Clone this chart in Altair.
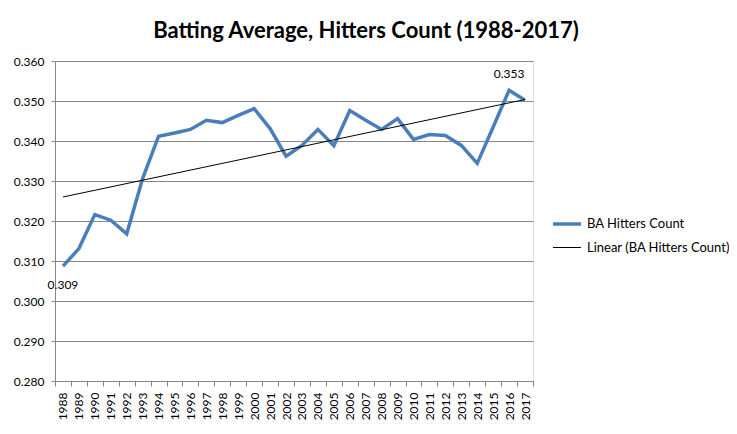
import altair as alt
import pandas as pd

years = [1988, 1989, 1990, 1991, 1992, 1993, 1994, 1995, 1996, 1997,
         1998, 1999, 2000, 2001, 2002, 2003, 2004, 2005, 2006, 2007,
         2008, 2009, 2010, 2011, 2012, 2013, 2014, 2015, 2016, 2017]
ba = [0.3087, 0.3131, 0.3216, 0.3202, 0.3168, 0.3306, 0.3412, 0.3420, 0.3429, 0.3452,
      0.3446, 0.3464, 0.3481, 0.3431, 0.3362, 0.3389, 0.3429, 0.3388, 0.3476, 0.3452,
      0.3429, 0.3456, 0.3404, 0.3416, 0.3414, 0.3389, 0.3344, 0.3435, 0.3527, 0.3502]
y_ticks = [0.28, 0.29, 0.30, 0.31, 0.32, 0.33, 0.34, 0.35, 0.36]
series_names = ["BA Hitters Count", "Linear (BA Hitters Count)"]
series_colors = ["#4A7EBB", "#000000"]
series_widths = [3.5, 1.0]

df = pd.DataFrame({"year": years, "ba": ba})

# axis positions: category labels at years, ticks between categories
x_axis_values = sorted(set(years + [y - 0.5 for y in years] + [years[-1] + 0.5]))

FONT = "Lato"

x_scale = alt.Scale(domain=[years[0] - 0.5, years[-1] + 0.5], nice=False, zero=False)
y_scale = alt.Scale(domain=[y_ticks[0], y_ticks[-1]], nice=False, zero=False)

x_enc = alt.X(
    "year:Q", scale=x_scale, title=None,
    axis=alt.Axis(
        values=x_axis_values, tickCount=200,
        labelExpr="datum.value % 1 == 0 ? toString(datum.value) : ''",
        labelAngle=270, labelOverlap=False, labelPadding=6,
        labelFontSize=12, labelFont=FONT, labelColor="#000000",
        grid=False, domainColor="#868686", tickColor="#868686",
        tickSize=5,
        tickOpacity={"condition": {"test": "datum.value % 1 != 0", "value": 1}, "value": 0},
    ),
)
y_enc = alt.Y(
    "ba:Q", scale=y_scale, title=None,
    axis=alt.Axis(
        values=y_ticks, tickCount=50, format=".3f", grid=True, gridColor="#868686",
        domainColor="#868686", tickColor="#868686", tickSize=4, labelOverlap=False,
        labelPadding=7, labelFontSize=12, labelFont=FONT, labelColor="#000000",
    ),
)

legend = alt.Legend(
    title=None, orient="none", legendX=496, legendY=147,
    symbolType="stroke", symbolSize=784, labelFont=FONT, labelFontSize=13,
    labelColor="#000000", labelOffset=4, rowPadding=2, padding=0,
)
color = alt.Color("series:N", scale=alt.Scale(domain=series_names, range=series_colors), legend=legend)
stroke_w = alt.StrokeWidth("series:N", scale=alt.Scale(type="ordinal", domain=series_names, range=series_widths), legend=legend)

base = alt.Chart(df)

line = base.transform_calculate(series="'BA Hitters Count'").mark_line().encode(
    x=x_enc, y=y_enc, color=color, strokeWidth=stroke_w
)

trend = base.transform_regression("year", "ba").transform_calculate(
    series="'Linear (BA Hitters Count)'"
).mark_line().encode(x="year:Q", y="ba:Q", color=color, strokeWidth=stroke_w)

labels_base = base.transform_joinaggregate(maxv="max(ba)", minv="min(ba)")
max_label = labels_base.transform_filter("datum.ba == datum.maxv").mark_text(
    font=FONT, fontSize=12, color="#000000", dy=-16
).encode(x="year:Q", y="ba:Q", text=alt.Text("ba:Q", format=".3f"))
min_label = labels_base.transform_filter("datum.ba == datum.minv").mark_text(
    font=FONT, fontSize=12, color="#000000", dy=19
).encode(x="year:Q", y="ba:Q", text=alt.Text("ba:Q", format=".3f"))

chart = alt.layer(line, trend, max_label, min_label).properties(
    width=478, height=320,
    title=alt.TitleParams(
        "Batting Average, Hitters Count (1988-2017)",
        font=FONT, fontSize=22, fontWeight="bold", color="#000000",
        anchor="middle", frame="group", dx=72, offset=12,
    ),
    autosize=alt.AutoSizeParams(type="none"),
    padding={"left": 47, "top": 53, "right": 196, "bottom": 45},
).configure_view(stroke=None).configure(background="#ffffff")

chart.save("out.html", embed_options={"renderer": "svg", "actions": False})
